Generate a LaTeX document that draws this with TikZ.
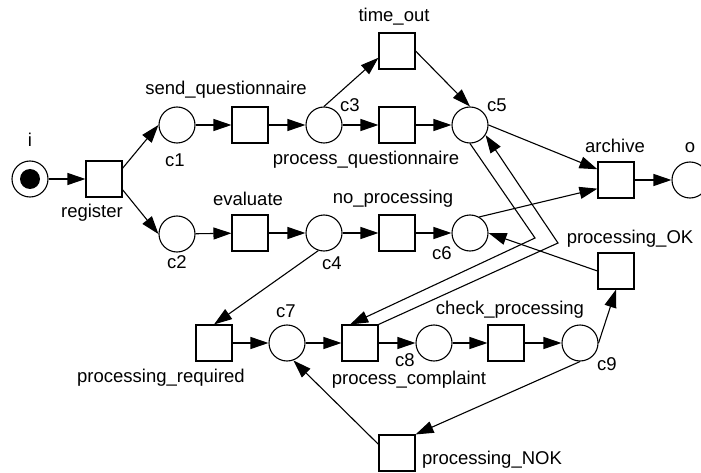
\documentclass[tikz,border=0pt]{standalone}
\usepackage{fontspec}
\setmainfont{Liberation Sans}
\usetikzlibrary{arrows.meta,positioning}

\tikzset{
    place/.style={circle,draw,line width=1.1pt,minimum size=36pt,inner sep=0pt},
    trans/.style={rectangle,draw,line width=1.1pt,minimum size=36pt,inner sep=0pt},
    token/.style={circle,fill,minimum size=20pt,inner sep=0pt},
    lbl/.style={inner sep=0pt},
    arc/.style={line width=1.1pt,-{Triangle[length=18pt,width=12pt]}}
}

\begin{document}
\begin{tikzpicture}[x=1pt,y=-1pt,font=\fontsize{18.5}{22}\selectfont]
    \useasboundingbox (0,0) rectangle (701,473);
    % places
    \node[place] (i) at (30,179) {};
    \node[token] (tok) at (30,179) {};
    \node[place] (c1) at (177,125) {};
    \node[place] (c2) at (177,234) {};
    \node[place] (c3) at (324,125) {};
    \node[place] (c4) at (324,233) {};
    \node[place] (c5) at (470,125) {};
    \node[place] (c6) at (470,233) {};
    \node[place] (c7) at (287,343) {};
    \node[place] (c8) at (434,343) {};
    \node[place] (c9) at (580,343) {};
    \node[place] (o) at (690,180) {};
    % transitions
    \node[trans] (reg) at (104,179) {};
    \node[trans] (sq) at (250,125) {};
    \node[trans] (tout) at (397,51) {};
    \node[trans] (pq) at (397,125) {};
    \node[trans] (ev) at (250,233) {};
    \node[trans] (np) at (397,233) {};
    \node[trans] (arch) at (616,180) {};
    \node[trans] (po) at (616,271) {};
    \node[trans] (pr) at (214,343) {};
    \node[trans] (pc) at (360,343) {};
    \node[trans] (cp) at (506,343) {};
    \node[trans] (nok) at (397,453) {};
    % labels
    \node[lbl] (li) at (30,140) {i};
    \node[lbl] (lc1) at (175,160) {c1};
    \node[lbl] (lc2) at (177,262) {c2};
    \node[lbl] (lc3) at (350,105) {c3};
    \node[lbl] (lc4) at (332,263) {c4};
    \node[lbl] (lc5) at (497,105) {c5};
    \node[lbl] (lc6) at (442,253) {c6};
    \node[lbl] (lc7) at (286,311) {c7};
    \node[lbl] (lc8) at (405,360) {c8};
    \node[lbl] (lc9) at (607,364) {c9};
    \node[lbl] (lo) at (690,148) {o};
    \node[lbl] (lreg) at (92,213) {register};
    \node[lbl] (lsq) at (226,90) {send\_questionnaire};
    \node[lbl] (ltout) at (394,17) {time\_out};
    \node[lbl] (lpq) at (366,160) {process\_questionnaire};
    \node[lbl] (lev) at (248,199) {evaluate};
    \node[lbl] (lnp) at (393,199) {no\_processing};
    \node[lbl] (larch) at (615,146) {archive};
    \node[lbl] (lpo) at (630,239) {processing\_OK};
    \node[lbl] (lpr) at (161,378) {processing\_required};
    \node[lbl] (lpc) at (409,380) {process\_complaint};
    \node[lbl] (lcp) at (510,310) {check\_processing};
    \node[lbl] (lnok) at (492,460) {processing\_NOK};
    % bends of the complaint loop
    \coordinate (b1) at (535,238);
    \coordinate (b2) at (558,243);
    % arcs
    \draw[arc] (i) -- (reg);
    \draw[arc] (reg.30) -- (c1.west);
    \draw[arc] (reg.-30) -- (c2.west);
    \draw[arc] (c1) -- (sq);
    \draw[arc] (sq) -- (c3);
    \draw[arc] (c3.north) -- (tout.200);
    \draw[arc] (c3) -- (pq);
    \draw[arc] (tout.east) -- (c5.north);
    \draw[arc] (pq) -- (c5);
    \draw[arc] (c2) -- (ev);
    \draw[arc] (ev) -- (c4);
    \draw[arc] (c4) -- (np);
    \draw[arc] (np) -- (c6);
    \draw[arc] (c5.east) -- (arch.150);
    \draw[arc] (c6.60) -- (arch.205);
    \draw[arc] (arch) -- (o);
    \draw[arc] (c4.-108) -- (pr.north);
    \draw[arc] (pr) -- (c7);
    \draw[arc] (c7) -- (pc);
    \draw[arc] (pc) -- (c8);
    \draw[arc] (c8) -- (cp);
    \draw[arc] (cp) -- (c9);
    \draw[arc] (c9.east) -- (po.south);
    \draw[arc] (po.west) -- (c6.east);
    \draw[arc] (c9.south) -- (nok.north east);
    \draw[arc] (nok.155) -- (c7.-70);
    \draw[arc] (c5.south) -- (b1) -- (pc.118);
    \draw[arc] (pc.north east) -- (b2) -- (c5.-33);
\end{tikzpicture}
\end{document}
